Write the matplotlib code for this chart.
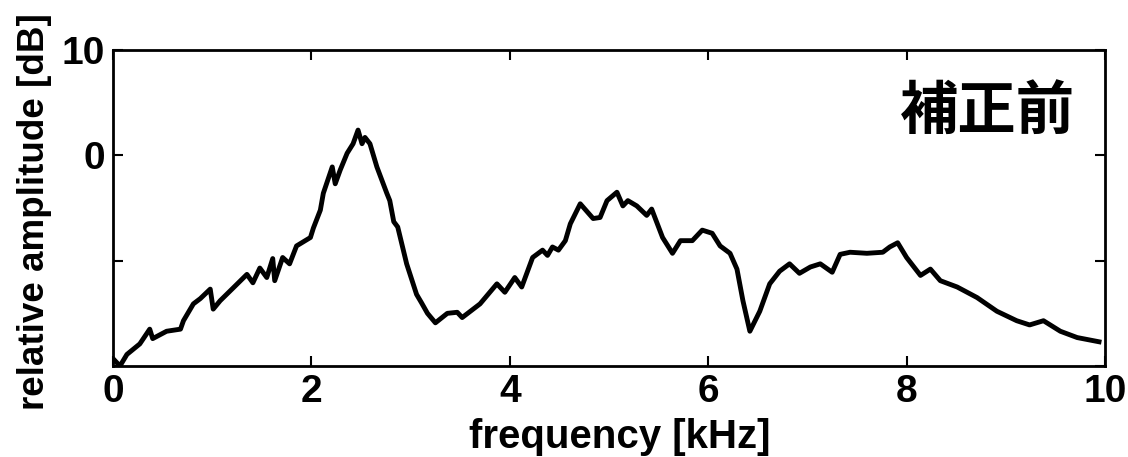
import matplotlib
matplotlib.use('Agg')
import matplotlib.pyplot as plt

plt.rcParams['font.family'] = ['Liberation Sans', 'DejaVu Sans']
plt.rcParams['font.weight'] = 'bold'
plt.rcParams['axes.labelweight'] = 'bold'

freq_khz = [0.00, 0.07, 0.14, 0.27, 0.37, 0.40, 0.54, 0.68, 0.71, 0.81, 0.88, 0.98, 1.01, 1.08,
            1.21, 1.35, 1.41, 1.48, 1.55, 1.61, 1.63, 1.71, 1.78, 1.85, 1.99, 2.02, 2.09, 2.12,
            2.21, 2.24, 2.29, 2.36, 2.42, 2.47, 2.51, 2.54, 2.59, 2.66, 2.76, 2.79, 2.83, 2.87,
            2.96, 3.06, 3.11, 3.17, 3.25, 3.37, 3.47, 3.52, 3.70, 3.87, 3.95, 4.05, 4.12, 4.23,
            4.33, 4.38, 4.43, 4.49, 4.56, 4.61, 4.71, 4.84, 4.91, 4.98, 5.08, 5.14, 5.19, 5.28,
            5.38, 5.43, 5.54, 5.64, 5.72, 5.84, 5.94, 6.04, 6.12, 6.22, 6.29, 6.35, 6.42, 6.52,
            6.62, 6.72, 6.82, 6.92, 7.03, 7.13, 7.25, 7.33, 7.43, 7.60, 7.76, 7.83, 7.91, 8.00,
            8.14, 8.24, 8.34, 8.51, 8.71, 8.91, 9.11, 9.24, 9.38, 9.55, 9.72, 9.94]
level_db = [-19.3, -20.0, -18.9, -17.9, -16.5, -17.4, -16.7, -16.5, -15.7, -14.1, -13.6, -12.7, -14.6, -13.8,
            -12.6, -11.3, -12.1, -10.7, -11.6, -9.8, -11.9, -9.7, -10.3, -8.6, -7.8, -6.9, -5.2, -3.6,
            -1.1, -2.7, -1.4, 0.2, 1.1, 2.4, 1.1, 1.7, 1.1, -1.1, -3.6, -4.3, -6.3, -6.8,
            -10.3, -13.2, -14.0, -15.0, -15.9, -15.0, -14.9, -15.4, -14.1, -12.2, -13.0, -11.6, -12.5, -9.7,
            -9.0, -9.5, -8.7, -9.0, -8.1, -6.5, -4.6, -6.0, -5.9, -4.3, -3.5, -4.8, -4.3, -4.8,
            -5.7, -5.1, -7.8, -9.3, -8.1, -8.1, -7.1, -7.4, -8.6, -9.3, -10.8, -13.8, -16.7, -14.8,
            -12.2, -11.0, -10.3, -11.2, -10.6, -10.3, -11.1, -9.4, -9.2, -9.3, -9.2, -8.7, -8.3, -9.7,
            -11.4, -10.8, -11.9, -12.5, -13.5, -14.8, -15.7, -16.1, -15.7, -16.7, -17.3, -17.7]

x_ticks = [0, 2, 4, 6, 8, 10]
y_ticks = [-20, -10, 0, 10]
y_tick_labels = ['', '', '0', '10']

fig = plt.figure(figsize=(11.28, 4.57), dpi=100)
ax = fig.add_axes([0.1002, 0.1991, 0.8794, 0.6915])

ax.plot(freq_khz, level_db, color='black', linewidth=3.5)

ax.set_xlim(0, 10)
ax.set_ylim(-20, 10)
ax.set_xticks(x_ticks)
ax.set_yticks(y_ticks)
ax.set_yticklabels(y_tick_labels)
ax.tick_params(direction='in', length=7, width=1.5, top=True, right=True,
               labelsize=28, pad=6)
for s in ax.spines.values():
    s.set_linewidth(2)

ax.set_xlabel('frequency [kHz]', fontsize=29, fontweight='bold')
ax.set_ylabel('relative amplitude [dB]', fontsize=26.5, fontweight='bold')
ax.xaxis.set_label_coords(0.511, -0.165)
ax.yaxis.set_label_coords(-0.0615, 0.49)

ax.text(0.97, 0.805, '補正前', transform=ax.transAxes, ha='right', va='center',
        fontsize=42, fontweight='bold', family=['Noto Sans CJK JP', 'DejaVu Sans'])

fig.savefig('out.png', dpi=100)
